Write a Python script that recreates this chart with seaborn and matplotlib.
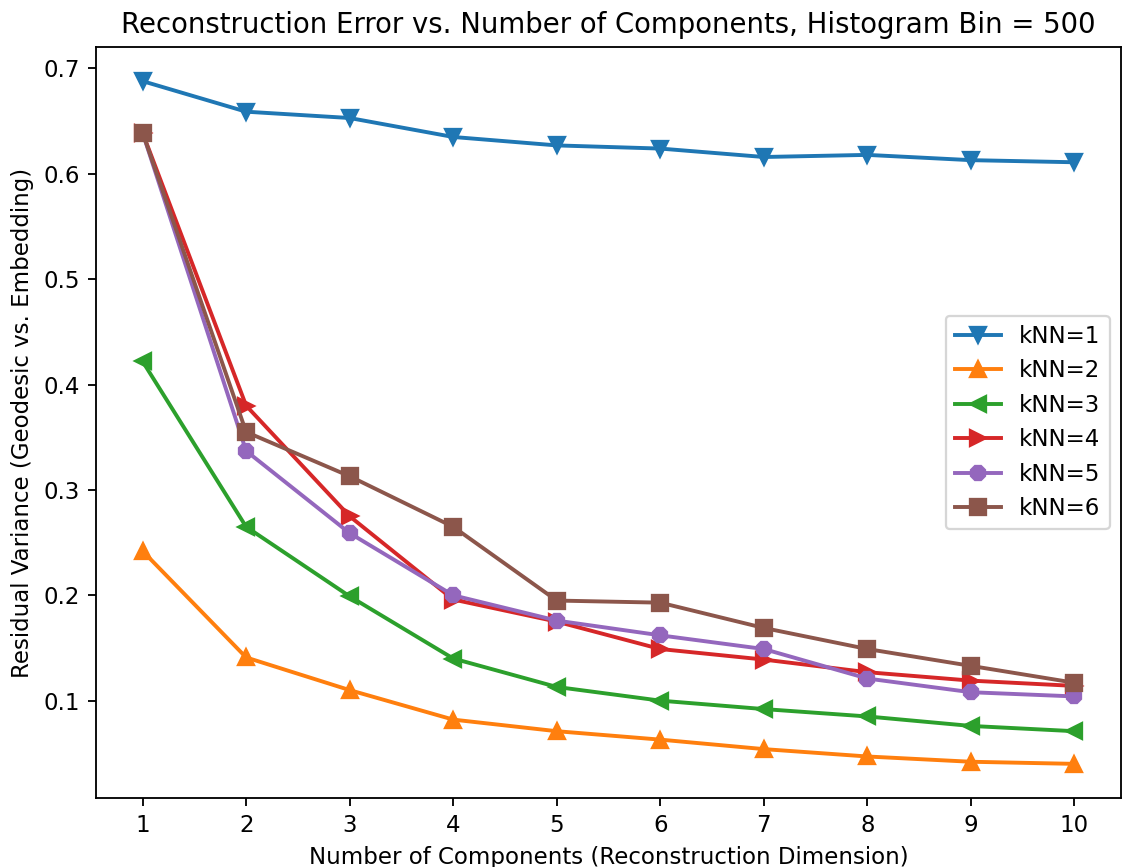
import matplotlib
matplotlib.use("Agg")
import matplotlib.pyplot as plt
import numpy as np
import pandas as pd
import seaborn as sns

components = [1, 2, 3, 4, 5, 6, 7, 8, 9, 10]
knn1 = [0.688, 0.659, 0.653, 0.635, 0.627, 0.624, 0.616, 0.618, 0.613, 0.611]
knn2 = [0.242, 0.141, 0.110, 0.082, 0.071, 0.063, 0.054, 0.047, 0.042, 0.040]
knn3 = [0.422, 0.265, 0.199, 0.140, 0.113, 0.100, 0.092, 0.085, 0.076, 0.071]
knn4 = [0.639, 0.380, 0.275, 0.196, 0.175, 0.149, 0.139, 0.127, 0.119, 0.114]
knn5 = [0.639, 0.337, 0.259, 0.200, 0.176, 0.162, 0.149, 0.121, 0.108, 0.104]
knn6 = [0.639, 0.355, 0.313, 0.265, 0.195, 0.193, 0.169, 0.149, 0.133, 0.117]
labels = ["kNN=1", "kNN=2", "kNN=3", "kNN=4", "kNN=5", "kNN=6"]

series = [knn1, knn2, knn3, knn4, knn5, knn6]
df = pd.DataFrame({
    "dim": np.tile(components, len(series)),
    "rv": np.concatenate(series),
    "knn": np.repeat(labels, len(components)),
})

plt.rcParams["font.family"] = ["DejaVu Sans"]
plt.rcParams["font.size"] = 10

DPI = 165
fig = plt.figure(figsize=(1123 / DPI, 867 / DPI), dpi=DPI)
ax = fig.add_axes([96 / 1123, 1 - 798 / 867, (1121 - 96) / 1123, (798 - 47) / 867])

markers = ["v", "^", "<", ">", "8", "s"]
sns.lineplot(data=df, x="dim", y="rv", hue="knn", style="knn",
             markers=markers, dashes=False, palette="tab10",
             linewidth=1.7, markersize=7, markeredgewidth=1, ax=ax)

# solid markers: edge in the same colour as the line
for line in ax.lines:
    line.set_markeredgecolor(line.get_color())
old = ax.get_legend()
handles = list(old.legend_handles)
for h in handles:
    h.set_markeredgecolor(h.get_color())
    h.set_markeredgewidth(1)
old.remove()
ax.legend(handles, labels, loc="center right")

ax.set_xticks(components)
ax.set_xlabel("Number of Components (Reconstruction Dimension)")
ax.set_ylabel("Residual Variance (Geodesic vs. Embedding)")
ax.set_title("Reconstruction Error vs. Number of Components, Histogram Bin = 500", fontsize=12)

fig.savefig("out.png", dpi=DPI)
